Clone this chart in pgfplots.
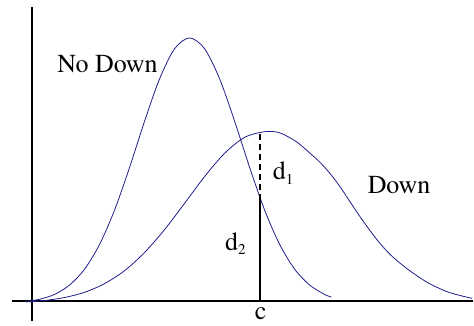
\documentclass[border=0pt]{standalone}
\usepackage{pgfplots}
\pgfplotsset{compat=1.18}
\usepackage{fontspec}
\newfontfamily\tnr{texgyretermes-regular.otf}
\definecolor{curve}{rgb}{0.12,0.12,0.55}
\newcommand{\lbl}{\tnr\fontsize{26bp}{30bp}\selectfont}
\newcommand{\sub}[1]{\raisebox{-4.5bp}{\tnr\fontsize{15bp}{18bp}\selectfont #1}}
\begin{document}
\begin{tikzpicture}
\begin{axis}[x=1bp,y=1bp,xmin=0,xmax=474,ymin=0,ymax=326,hide axis,clip=false,
  every node/.style={inner sep=0pt}]
\path (axis cs:0,0) rectangle (axis cs:474,326);
% axes
\addplot[black,line width=2bp] coordinates {(12,24) (474,24)};
\addplot[black,line width=2bp] coordinates {(32,319) (32,4)};
% No Down
\addplot[curve,line width=0.8bp,smooth] coordinates {
(26,23.8) (40,26.2) (55,31.1) (70,40.6) (85,56.6) (100,81.5) (115,116.0)
(130,158.7) (145,204.9) (160,247.2) (175,277.2) (190,288) (205,277.2)
(220,247.2) (235,204.9) (250,158.7) (265,116.0) (280,81.5) (295,56.6)
(310,40.6) (325,31.1) (332,28.4)};
% Down
\addplot[curve,line width=0.8bp,smooth] coordinates {
(26,23.4) (45,24.9) (65,27.9) (85,33.2) (105,41.9) (125,54.9) (145,73.1)
(165,96.0) (185,122.3) (205,149.0) (225,172.3) (245,188.3) (265,194)
(280,193) (297,184) (310,173) (320,164) (330,153) (340,140) (350,125)
(360,110) (370,96) (380,83) (390,72) (400,63) (413,53) (430,42) (450,33)
(473,27)};
% cut line
\addplot[black,line width=2bp] coordinates {(261,24) (261,126)};
\addplot[black,line width=2bp,dash pattern=on 6bp off 4bp] coordinates {(261,126) (261,194)};
% labels
\node[anchor=base west] at (axis cs:54,253) {\lbl No Down};
\node[anchor=base west] at (axis cs:365,132) {\lbl Down};
\node[anchor=base west] at (axis cs:270,146) {\lbl d\sub{1}};
\node[anchor=base west] at (axis cs:222,75) {\lbl d\sub{2}};
\node[anchor=base west] at (axis cs:252,6) {\lbl c};
\end{axis}
\end{tikzpicture}
\end{document}
